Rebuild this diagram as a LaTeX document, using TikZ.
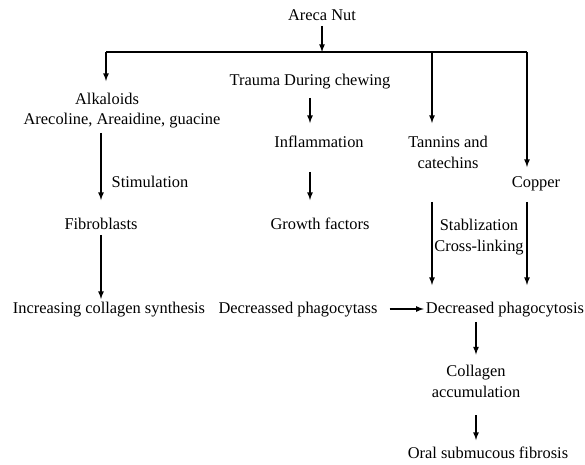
\documentclass[tikz,border=0pt]{standalone}
\usepackage{fontspec}
\setmainfont{Liberation Serif}
\usepackage{tikz}
\usetikzlibrary{arrows,positioning}
\tikzstyle{txt} = [text=black, align=center, inner sep=2pt, text height=12pt, text depth=3.5pt, font=\fontsize{16.4}{21}\selectfont]
\tikzstyle{txtm} = [text=black, align=center, inner sep=2pt, font=\fontsize{16.4}{21}\selectfont]
\tikzstyle{tedge}  = [draw, line width=1.6pt, >=latex, ->]
\tikzstyle{tline}  = [draw, line width=1.6pt]

\begin{document}
\begin{tikzpicture}[x=1pt, y=-1pt]
\useasboundingbox (0,0) rectangle (585,464);

% top =============================
\node[txt] (areca) at (322,16) {Areca Nut};
\coordinate (jl) at (106,52);
\coordinate (jm) at (322,52);
\coordinate (jt) at (432,52);
\coordinate (jr) at (527,52);

% branches
\node[txt] (alk) at (107,100) {Alkaloids};
\node[txt] (alkb) at (122,120) {Arecoline, Areaidine, guacine};
\node[txt] (trauma) at (310,81) {Trauma During chewing};
\node[txt] (infl) at (319,143) {Inflammation};
\node[txtm] (tan) at (448,152.5) {Tannins and\\catechins};
\node[txt] (cop) at (536,183) {Copper};

% middle
\node[txt] (stim) at (150,183) {Stimulation};
\node[txt] (fib) at (101,225) {Fibroblasts};
\node[txt] (growth) at (320,225) {Growth factors};
\node[txtm] (stab) at (479,237) {Stablization\\Cross-linking};

% bottom
\node[txt] (inc) at (109,309) {Increasing collagen synthesis};
\node[txt] (decp) at (298,309) {Decreassed phagocytass};
\node[txt] (decq) at (505,309) {Decreased phagocytosis};
\node[txtm] (coll) at (476,381) {Collagen\\accumulation};
\node[txt] (osf) at (488,454) {Oral submucous fibrosis};

%edges
\path[tedge] (areca.south) -- (jm);
\path[tline] (jl) -- (jr);
\path[tedge, shorten >=9pt] (jl) -- (jl |- alk.north);
\path[tedge, shorten >=11pt] (jt) -- (jt |- tan.north);
\path[tedge, shorten >=6pt] (jr) -- (jr |- cop.north);

\path[tedge, shorten <=7pt, shorten >=10pt] (trauma.south) -- (trauma.south |- infl.north);
\path[tedge, shorten <=19pt, shorten >=15pt] (infl.south -| trauma) -- (trauma |- growth.north);

\path[tedge, shorten <=3pt, shorten >=15pt] (fib |- alkb.south) -- (fib.north);
\path[tedge] (fib.south) -- (fib |- inc.north);

\path[tedge, shorten <=10pt] (decp.east) -- (decq.west);
\path[tedge, shorten <=31pt, shorten >=14pt] (tan.south -| jt) -- (jt |- decq.north);
\path[tedge, shorten <=9pt, shorten >=14pt] (cop.south -| jr) -- (jr |- decq.north);

\path[tedge, shorten <=3pt, shorten >=8pt] (decq.south -| coll) -- (coll.north);
\path[tedge, shorten <=16pt, shorten >=4pt] (coll.south) -- (coll |- osf.north);

\end{tikzpicture}
\end{document}
